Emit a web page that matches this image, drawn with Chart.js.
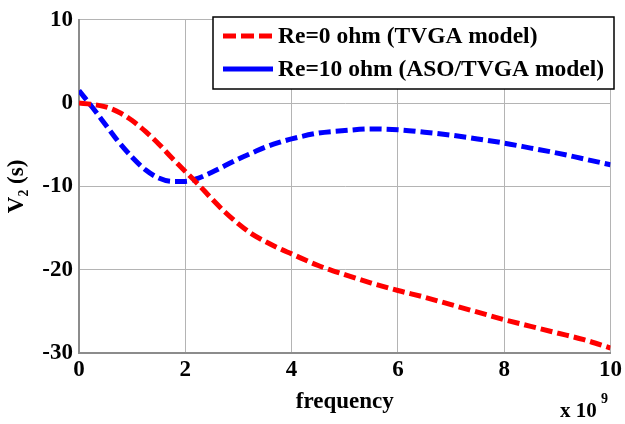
<!DOCTYPE html>
<html>
<head>
<meta charset="utf-8">
<script src="https://cdn.jsdelivr.net/npm/chart.js@4"></script>
<style>
  html, body { margin: 0; padding: 0; background: #fff; }
  #wrap { width: 625px; height: 424px; }
</style>
</head>
<body>
<div id="wrap"><canvas id="v2Chart" width="625" height="424"></canvas></div>
<script>
// frequency in units of 1e9
const freq = [0, 0.25, 0.5, 0.75, 1, 1.25, 1.5, 1.75, 2, 2.25, 2.5, 2.75, 3, 3.25, 3.5, 3.75, 4, 4.5, 5, 5.5, 6, 6.5, 7, 7.5, 8, 8.5, 9, 9.5, 10];
const re0 = [0, -0.15, -0.45, -1.1, -2.1, -3.4, -4.9, -6.6, -8.2, -9.8, -11.5, -13.1, -14.5, -15.7, -16.6, -17.4, -18.1, -19.5, -20.6, -21.6, -22.5, -23.3, -24.2, -25.1, -26.0, -26.8, -27.6, -28.4, -29.4];
const re10 = [1.5, -0.5, -2.6, -4.7, -6.5, -8.0, -9.0, -9.4, -9.4, -9.0, -8.3, -7.5, -6.7, -6.0, -5.3, -4.75, -4.3, -3.6, -3.3, -3.1, -3.2, -3.5, -3.85, -4.3, -4.8, -5.4, -6.0, -6.7, -7.4];
const seriesLabels = ['Re=0 ohm (TVGA model)', 'Re=10 ohm (ASO/TVGA model)'];
const xTicks = [0, 2, 4, 6, 8, 10];
const yTicks = [-30, -20, -10, 0, 10];

const FONT = '"Liberation Serif", "Times New Roman", serif';

function toPoints(ys) {
    return freq.map((f, i) => ({ x: f, y: ys[i] }));
}

// boxed legend inside the plot, top-right (MATLAB style)
const boxLegend = {
    id: 'boxLegend',
    afterDraw(chart) {
        const ctx = chart.ctx;
        const x0 = 213, y0 = 17, x1 = 614, y1 = 89;
        ctx.save();
        ctx.fillStyle = '#fff';
        ctx.fillRect(x0, y0, x1 - x0, y1 - y0);
        ctx.strokeStyle = '#000';
        ctx.lineWidth = 1.5;
        ctx.strokeRect(x0, y0, x1 - x0, y1 - y0);
        ctx.font = 'bold 23.5px ' + FONT;
        ctx.textBaseline = 'middle';
        ctx.fillStyle = '#000';
        chart.data.datasets.forEach((ds, i) => {
            const cy = 36 + i * 33;
            ctx.beginPath();
            ctx.setLineDash(ds.legendDash);
            ctx.strokeStyle = ds.borderColor;
            ctx.lineWidth = 5;
            ctx.moveTo(223, cy);
            ctx.lineTo(273, cy);
            ctx.stroke();
            ctx.setLineDash([]);
            ctx.fillText(ds.label, 278, cy + 1);
        });

        // exponent label under the x axis
        ctx.textBaseline = 'alphabetic';
        ctx.font = 'bold 21px ' + FONT;
        ctx.fillText('x 10', 560, 417);
        ctx.font = 'bold 14px ' + FONT;
        ctx.fillText('9', 601, 403);
        ctx.restore();
    }
};

new Chart(document.getElementById('v2Chart'), {
    type: 'line',
    data: {
        datasets: [
            { label: seriesLabels[0], data: toPoints(re0), borderColor: '#ff0000', borderWidth: 5, borderDash: [12, 5], legendDash: [13, 5], pointRadius: 0, cubicInterpolationMode: 'monotone', fill: false },
            { label: seriesLabels[1], data: toPoints(re10), borderColor: '#0000ff', borderWidth: 5, borderDash: [12, 5], legendDash: [], pointRadius: 0, cubicInterpolationMode: 'monotone', fill: false }
        ]
    },
    options: {
        responsive: false,
        animation: false,
        layout: { padding: { left: 0, right: 12, top: 19, bottom: 0 } },
        plugins: { legend: { display: false }, tooltip: { enabled: false } },
        scales: {
            x: {
                type: 'linear', min: 0, max: 10,
                afterBuildTicks: (s) => { s.ticks = xTicks.map(v => ({ value: v })); },
                afterFit: (s) => { s.height = 71; },
                grid: { color: '#b4b4b4', lineWidth: 1, drawTicks: false },
                border: { color: '#8c8c8c', width: 2 },
                ticks: { color: '#000', padding: 3, font: { family: FONT, size: 23, weight: 'bold' }, maxRotation: 0 },
                title: { display: true, text: 'frequency', color: '#000', padding: { top: 0, bottom: 8 }, font: { family: FONT, size: 23, weight: 'bold' } }
            },
            y: {
                min: -30, max: 10,
                afterBuildTicks: (s) => { s.ticks = yTicks.map(v => ({ value: v })); },
                afterFit: (s) => { s.width = 79; },
                grid: { color: '#b4b4b4', lineWidth: 1, drawTicks: false },
                border: { color: '#8c8c8c', width: 2 },
                ticks: { color: '#000', padding: 6, font: { family: FONT, size: 23, weight: 'bold' } },
                title: { display: true, text: 'V\u2082 (s)', color: '#000', padding: { top: 3, bottom: 0 }, font: { family: FONT, size: 23, weight: 'bold' } }
            }
        }
    },
    plugins: [boxLegend]
});
</script>
</body>
</html>
